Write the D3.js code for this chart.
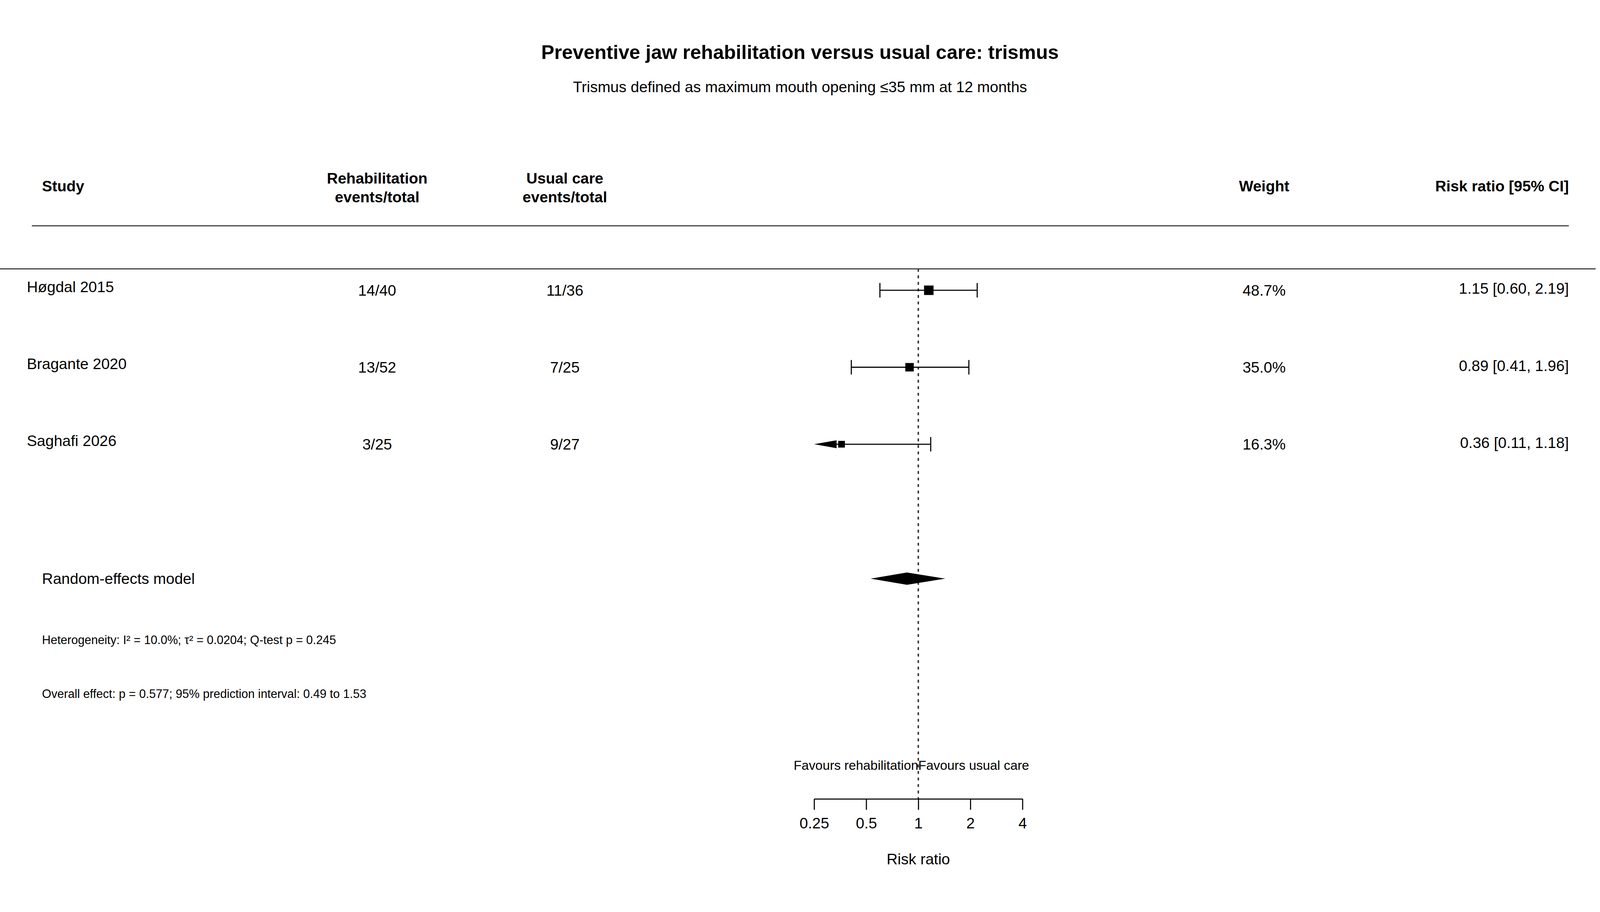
<!DOCTYPE html>
<html lang="en">
<head>
<meta charset="UTF-8">
<title>Forest plot</title>
<script src="https://d3js.org/d3.v7.min.js"></script>
<style>
  html, body { margin: 0; padding: 0; background: #fff; overflow: hidden; }
  #chart { display: block; width: 100vw; height: 100vh; }
  text { font-family: "Liberation Sans", Arial, sans-serif; fill: #000; }
</style>
</head>
<body>
<svg id="chart" viewBox="0 0 4416 2335" preserveAspectRatio="xMidYMid meet"></svg>
<script>
    const studies = ["Høgdal 2015", "Bragante 2020", "Saghafi 2026"];
    const rehab = ["14/40", "13/52", "3/25"];
    const usual = ["11/36", "7/25", "9/27"];
    const weights = [48.7, 35.0, 16.3];
    const rr = [1.15, 0.89, 0.36];
    const lower = [0.60, 0.41, 0.11];
    const upper = [2.19, 1.96, 1.18];
    const pooled = { est: 0.86, lo: 0.53, hi: 1.43 };
    const ticks = [0.25, 0.5, 1, 2, 4];

    const svg = d3.select("#chart");
    const x = d3.scaleLog().base(2).domain([0.25, 4]).range([2247, 2822]);
    const y = d3.scalePoint().domain(studies).range([710, 1135]);
    const fmt = d3.format(".2f");

    svg.append("text").attr("x", 2208).attr("y", 72).attr("text-anchor", "middle")
        .attr("font-size", 54).attr("font-weight", "bold")
        .text("Preventive jaw rehabilitation versus usual care: trismus");
    svg.append("text").attr("x", 2208).attr("y", 163).attr("text-anchor", "middle")
        .attr("font-size", 42).text("Trismus defined as maximum mouth opening ≤35 mm at 12 months");

    // header
    const head = svg.append("g").attr("font-size", 42).attr("font-weight", "bold");
    head.append("text").attr("x", 116).attr("y", 437).text("Study");
    [["Rehabilitation", "events/total", 1041], ["Usual care", "events/total", 1559]].forEach(h => {
        const t = head.append("text").attr("text-anchor", "middle");
        t.append("tspan").attr("x", h[2]).attr("y", 416).text(h[0]);
        t.append("tspan").attr("x", h[2]).attr("y", 467).text(h[1]);
    });
    head.append("text").attr("x", 3489).attr("y", 437).attr("text-anchor", "middle").text("Weight");
    head.append("text").attr("x", 4330).attr("y", 437).attr("text-anchor", "end").text("Risk ratio [95% CI]");
    svg.append("line").attr("x1", 88).attr("x2", 4330).attr("y1", 532).attr("y2", 532).attr("stroke", "#333").attr("stroke-width", 3);
    svg.append("line").attr("x1", 0).attr("x2", 4404).attr("y1", 651).attr("y2", 651).attr("stroke", "#333").attr("stroke-width", 3);

    // reference line
    svg.append("line").attr("x1", x(1)).attr("x2", x(1)).attr("y1", 651).attr("y2", 2114)
        .attr("stroke", "#333").attr("stroke-width", 4).attr("stroke-dasharray", "8,10");

    const rows = svg.append("g").attr("font-size", 42);
    studies.forEach((s, i) => {
        const yy = y(s);
        rows.append("text").attr("x", 74).attr("y", yy + 5).text(s);
        rows.append("text").attr("x", 1041).attr("y", yy + 15).attr("text-anchor", "middle").text(rehab[i]);
        rows.append("text").attr("x", 1559).attr("y", yy + 15).attr("text-anchor", "middle").text(usual[i]);
        rows.append("text").attr("x", 3489).attr("y", yy + 15).attr("text-anchor", "middle").text(weights[i].toFixed(1) + "%");
        rows.append("text").attr("x", 4330).attr("y", yy + 10).attr("text-anchor", "end")
            .text(`${fmt(rr[i])} [${fmt(lower[i])}, ${fmt(upper[i])}]`);

        const lo = Math.max(lower[i], 0.25);
        const clipped = lower[i] < 0.25;
        const x0 = clipped ? x(0.25) + 62 : x(lo);
        svg.append("line").attr("x1", x0).attr("x2", x(upper[i])).attr("y1", yy).attr("y2", yy)
            .attr("stroke", "#000").attr("stroke-width", 3);
        svg.append("line").attr("x1", x(upper[i])).attr("x2", x(upper[i])).attr("y1", yy - 20).attr("y2", yy + 20)
            .attr("stroke", "#000").attr("stroke-width", 3);
        if (clipped) {
            svg.append("path").attr("d", `M${x(0.25)},${yy}L${x0},${yy - 11}L${x0},${yy + 11}Z`).attr("fill", "#000");
        } else {
            svg.append("line").attr("x1", x(lo)).attr("x2", x(lo)).attr("y1", yy - 20).attr("y2", yy + 20)
                .attr("stroke", "#000").attr("stroke-width", 3);
        }
        const sz = 8 + Math.sqrt(weights[i]) * 2.6;
        svg.append("rect").attr("x", x(rr[i]) - sz / 2).attr("y", yy - sz / 2).attr("width", sz).attr("height", sz).attr("fill", "#000");
    });

    // pooled
    const py = 1506;
    svg.append("text").attr("x", 116).attr("y", py + 15).attr("font-size", 42).text("Random-effects model");
    svg.append("path").attr("d", `M${x(pooled.lo)},${py}L${x(pooled.est)},${py - 17}L${x(pooled.hi)},${py}L${x(pooled.est)},${py + 17}Z`)
        .attr("fill", "#000");
    svg.append("text").attr("x", 116).attr("y", 1687).attr("font-size", 33)
        .text("Heterogeneity: I² = 10.0%; τ² = 0.0204; Q-test p = 0.245");
    svg.append("text").attr("x", 116).attr("y", 1835).attr("font-size", 33)
        .text("Overall effect: p = 0.577; 95% prediction interval: 0.49 to 1.53");

    svg.append("text").attr("x", x(1)).attr("y", 2034).attr("text-anchor", "end").attr("font-size", 36).text("Favours rehabilitation");
    svg.append("text").attr("x", x(1)).attr("y", 2034).attr("font-size", 36).text("Favours usual care");

    const axis = d3.axisBottom(x).tickValues(ticks).tickFormat(d => d).tickSize(30).tickPadding(22).tickSizeOuter(0);
    const ag = svg.append("g").attr("transform", "translate(0,2114)").call(axis);
    ag.selectAll("path, line").attr("stroke", "#000").attr("stroke-width", 3);
    ag.selectAll("text").attr("font-size", 42).attr("font-family", "Liberation Sans, Arial, sans-serif");
    svg.append("text").attr("x", x(1)).attr("y", 2295).attr("text-anchor", "middle").attr("font-size", 42).text("Risk ratio");
</script>
</body>
</html>
